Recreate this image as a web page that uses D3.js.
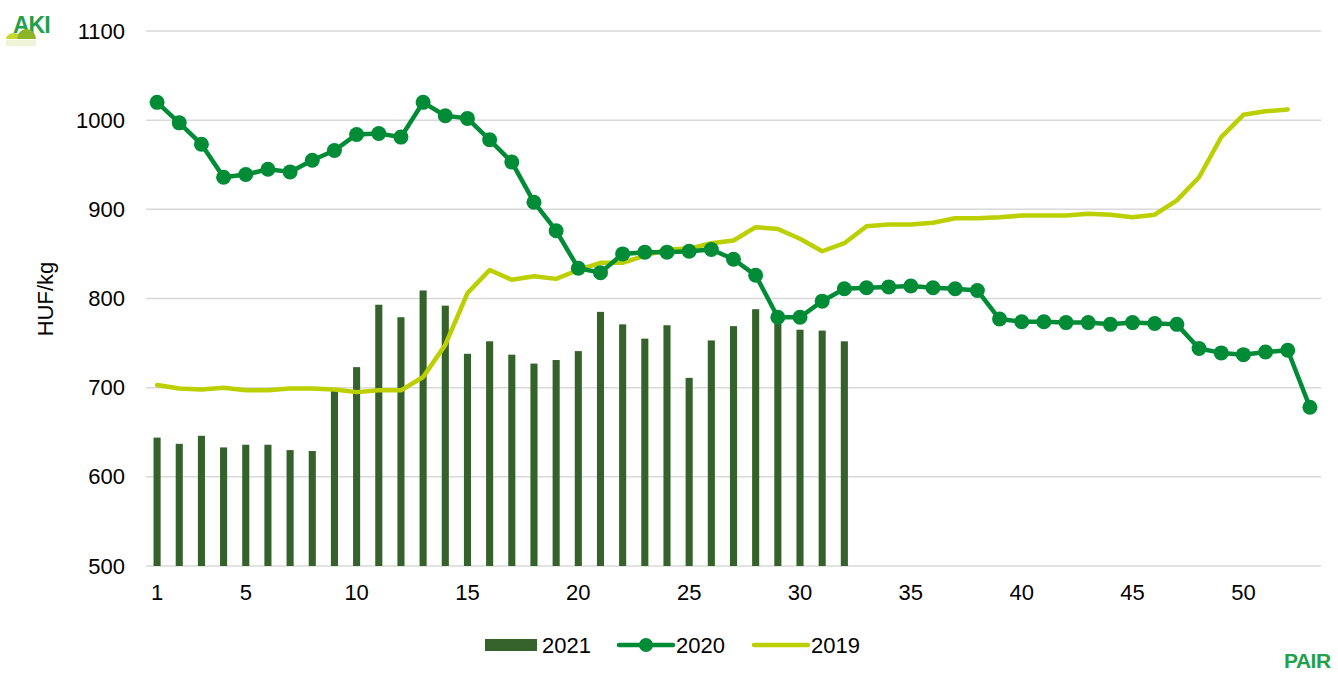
<!DOCTYPE html>
<html><head><meta charset="utf-8">
<script src="https://cdn.jsdelivr.net/npm/d3@7/dist/d3.min.js"></script>
<style>body{margin:0;background:#fff}svg{display:block;font-family:"Liberation Sans",Arial,sans-serif}</style>
</head><body><svg id="c" width="1338" height="673"></svg>
<script>
const weeks = d3.range(1, 54);
const xTickLabels = [1,5,10,15,20,25,30,35,40,45,50];
const yTicks = [500,600,700,800,900,1000,1100];
const seriesNames = ["2021","2020","2019"];
const v2021 = [644,637,646,633,636,636,630,629,697,723,793,779,809,792,738,752,737,727,731,741,785,771,755,770,711,753,769,788,778,765,764,752];
const v2020 = [1020,997,973,936,939,945,942,955,966,984,985,981,1020,1005,1002,978,953,908,876,834,829,850,852,852,853,855,844,826,779,779,797,811,812,813,814,812,811,809,777,774,774,773,773,771,773,772,771,744,739,737,740,742,678];
const v2019 = [703,699,698,700,697,697,699,699,698,695,697,697,712,748,806,832,821,825,822,832,840,840,848,855,856,862,865,880,878,867,853,862,881,883,883,885,890,890,891,893,893,893,895,894,891,894,910,936,981,1006,1010,1012];

const svg = d3.select("#c");
const pL = 146, pR = 1321, pT = 31, pB = 566;
const FONT = "Liberation Sans, Arial, sans-serif";
const x = d3.scaleBand().domain(weeks).range([pL, pR]).paddingInner(0.68).paddingOuter(0.34);
const xc = d => x(d) + x.bandwidth()/2;
const y = d3.scaleLinear().domain([500,1100]).range([pB, pT]);

// gridlines
svg.append("g").selectAll("line").data(yTicks).join("line")
  .attr("x1", pL).attr("x2", pR).attr("y1", d=>y(d)).attr("y2", d=>y(d))
  .attr("stroke", "#d9d9d9").attr("stroke-width", 1.5);

// y axis labels
const yAxis = d3.axisLeft(y).tickValues(yTicks).tickSize(0).tickPadding(0).tickFormat(d3.format("d"));
const gy = svg.append("g").attr("transform", `translate(${pL-21},0)`).call(yAxis);
gy.select(".domain").remove();
gy.selectAll("text").attr("font-size", 22).attr("fill", "#000").attr("font-family", FONT);

// x axis labels
const xAxis = d3.axisBottom(x).tickValues(xTickLabels).tickSize(0).tickPadding(0);
const gx = svg.append("g").attr("transform", `translate(0,${pB+18})`).call(xAxis);
gx.select(".domain").remove();
gx.selectAll("text").attr("font-size", 22).attr("fill", "#000").attr("font-family", FONT);

// y title
svg.append("text").attr("transform", `translate(53,299) rotate(-90)`)
  .attr("text-anchor","middle").attr("font-size", 22).attr("fill","#000").text("HUF/kg");

// bars 2021
svg.append("g").selectAll("rect").data(v2021).join("rect")
  .attr("x", (d,i)=>x(weeks[i])).attr("width", x.bandwidth())
  .attr("y", d=>y(d)).attr("height", d=>y(500)-y(d)).attr("fill", "#35622b");

// 2019 line
svg.append("path").datum(v2019)
  .attr("d", d3.line().x((d,i)=>xc(weeks[i])).y(d=>y(d)))
  .attr("fill","none").attr("stroke","#bccf00").attr("stroke-width",4.5)
  .attr("stroke-linejoin","round").attr("stroke-linecap","round");

// 2020 line
svg.append("path").datum(v2020)
  .attr("d", d3.line().x((d,i)=>xc(weeks[i])).y(d=>y(d)))
  .attr("fill","none").attr("stroke","#008c37").attr("stroke-width",4.5)
  .attr("stroke-linejoin","round");
svg.append("g").selectAll("circle").data(v2020).join("circle")
  .attr("cx",(d,i)=>xc(weeks[i])).attr("cy",d=>y(d)).attr("r",7.5).attr("fill","#008c37");

// legend
const lg = svg.append("g").attr("font-size", 22).attr("fill","#000");
lg.append("rect").attr("x",485).attr("y",639).attr("width",52).attr("height",12).attr("fill","#35622b");
lg.append("text").attr("x",542).attr("y",653).text(seriesNames[0]);
lg.append("line").attr("x1",619).attr("x2",673).attr("y1",645).attr("y2",645).attr("stroke","#008c37").attr("stroke-width",4.5).attr("stroke-linecap","round");
lg.append("circle").attr("cx",646).attr("cy",645).attr("r",7).attr("fill","#008c37");
lg.append("text").attr("x",676).attr("y",653).text(seriesNames[1]);
lg.append("line").attr("x1",754).attr("x2",808).attr("y1",645).attr("y2",645).attr("stroke","#bccf00").attr("stroke-width",4.5).attr("stroke-linecap","round");
lg.append("text").attr("x",811).attr("y",653).text(seriesNames[2]);

// AKI logo
const logo = svg.append("g");
logo.append("text").attr("x",13).attr("y",33).attr("font-size",23).attr("font-weight","bold")
  .attr("fill","#22a04b").attr("letter-spacing",-1).text("AKI");
logo.append("path").attr("d","M6,39 A8,6 0 0 1 22,39 Z").attr("fill","#c5d92d");
logo.append("path").attr("d","M17,39 A9.5,10 0 0 1 36,39 Z").attr("fill","#8cb52a");
logo.append("rect").attr("x",6).attr("y",40).attr("width",30).attr("height",6).attr("fill","#eef4d8");
// PAIR logo
svg.append("text").attr("x",1284).attr("y",668).attr("font-size",21).attr("font-weight","bold")
  .attr("fill","#22a04b").attr("letter-spacing",-0.5).text("PAIR");
</script></body></html>
